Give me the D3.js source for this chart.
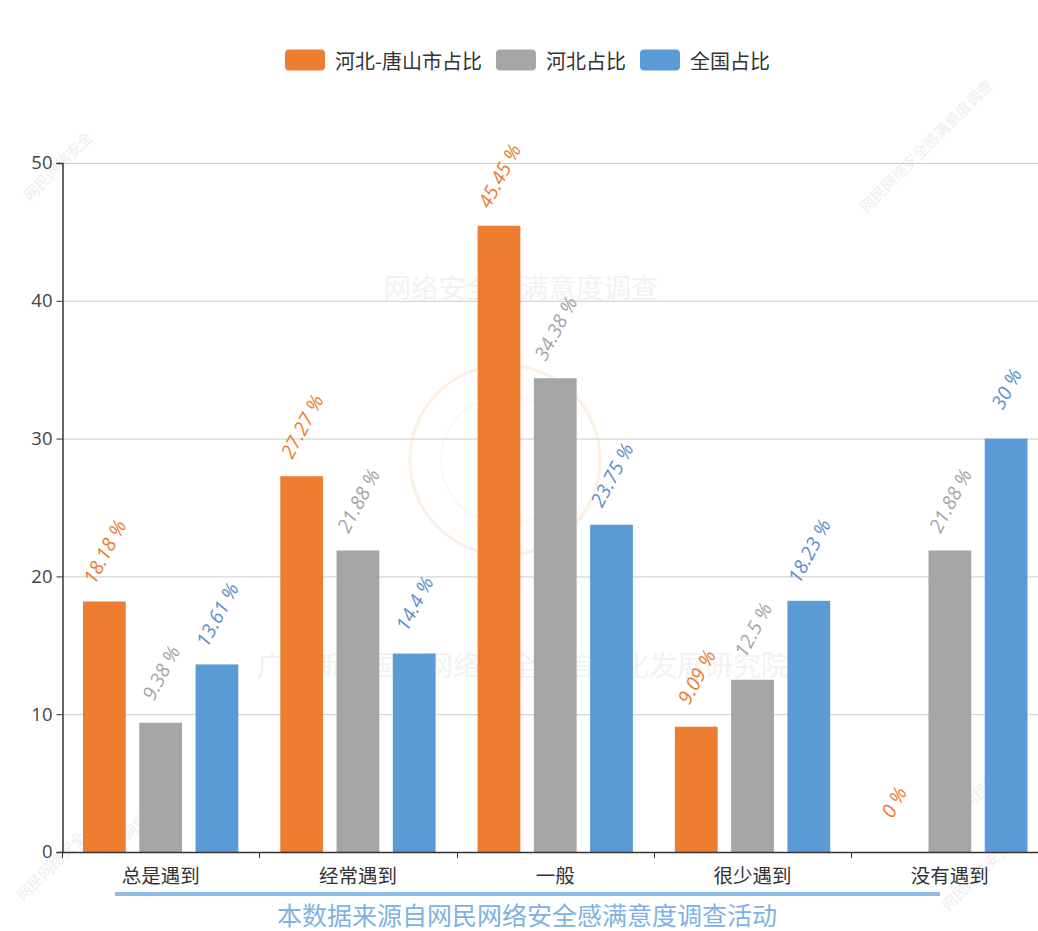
<!DOCTYPE html>
<html>
<head>
<meta charset="utf-8">
<script src="https://cdn.jsdelivr.net/npm/d3@7"></script>
<style>
  html, body { margin: 0; padding: 0; background: #fff; }
  svg { display: block; font-family: 'Open Sans', 'Noto Sans CJK SC', sans-serif; }
</style>
</head>
<body>
<svg id="chart" width="1038" height="931"></svg>
<script>
const categories = ["总是遇到", "经常遇到", "一般", "很少遇到", "没有遇到"];
const seriesNames = ["河北-唐山市占比", "河北占比", "全国占比"];
const tangshan = [18.18, 27.27, 45.45, 9.09, 0];
const hebei = [9.38, 21.88, 34.38, 12.5, 21.88];
const national = [13.61, 14.4, 23.75, 18.23, 30];
const yTicks = [0, 10, 20, 30, 40, 50];
const colors = ["#ED7D31", "#A5A5A5", "#5B9BD5"];
const labelColors = ["#ED7D31", "#A5A5A5", "#5B8FCB"];
const footnote = "本数据来源自网民网络安全感满意度调查活动";

const seriesValues = [tangshan, hebei, national];
const svg = d3.select("#chart");

const plotLeft = 62, plotRight = 1048.5, plotTop = 163, plotBottom = 852;
const y = d3.scaleLinear().domain([0, 50]).range([plotBottom, plotTop]);
const x0 = d3.scaleBand().domain(categories).range([plotLeft, plotRight]).paddingInner(0).paddingOuter(0);
const x1 = d3.scaleBand().domain(seriesNames).range([21, x0.bandwidth() - 21]).paddingInner(0.24).paddingOuter(0);

// watermarks
const wm = svg.append("g").attr("class", "watermark");
wm.append("text").attr("x", 521).attr("y", 298).attr("text-anchor", "middle")
  .attr("font-size", 27.5).attr("fill", "#f2f2f2").text("网络安全感满意度调查");
wm.append("text").attr("x", 523).attr("y", 676).attr("text-anchor", "middle")
  .attr("font-size", 28).attr("fill", "#f2f2f2").text("广东新兴国家网络安全和信息化发展研究院");
wm.append("circle").attr("cx", 505).attr("cy", 460).attr("r", 95)
  .attr("fill", "none").attr("stroke", "#fcf0e4").attr("stroke-width", 3);
wm.append("circle").attr("cx", 505).attr("cy", 460).attr("r", 64)
  .attr("fill", "none").attr("stroke", "#fdf5ee").attr("stroke-width", 1.5);
const cornerMarks = [[62, 170, "网民网络安全"], [930, 150, "网民网络安全感满意度调查"], [55, 870, "网民网络安全"], [990, 790, "网民网络"], [980, 880, "网民网络安全"], [150, 820, "网民网络"]];
cornerMarks.forEach(([cx, cy, t]) => {
  wm.append("text").attr("transform", `translate(${cx},${cy}) rotate(-45)`)
    .attr("text-anchor", "middle").attr("font-size", 15).attr("fill", "#eeeeee")
    .text(t);
});

// gridlines
svg.append("g").selectAll("line").data(yTicks.filter(d => d > 0)).join("line")
  .attr("x1", plotLeft).attr("x2", 1038)
  .attr("y1", d => y(d) + 0.5).attr("y2", d => y(d) + 0.5)
  .attr("stroke", "#cccccc").attr("stroke-width", 1);

// y axis
const yAxis = svg.append("g").attr("transform", `translate(${plotLeft + 0.5},0)`)
  .call(d3.axisLeft(y).tickValues(yTicks).tickSize(6).tickPadding(4));
yAxis.select(".domain").attr("stroke", "#333").attr("stroke-width", 1.5);
yAxis.selectAll(".tick line").attr("stroke", "#333");
yAxis.selectAll(".tick text").attr("font-size", 18.5).attr("fill", "#444")
  .attr("font-family", "'Open Sans', sans-serif");

// bars
const groups = svg.append("g").selectAll("g").data(categories).join("g")
  .attr("transform", d => `translate(${x0(d)},0)`);
groups.selectAll("rect").data((c, i) => seriesNames.map((s, j) => ({ s, j, v: seriesValues[j][i] })))
  .join("rect")
  .attr("x", d => x1(d.s)).attr("width", x1.bandwidth())
  .attr("y", d => y(d.v)).attr("height", d => y(0) - y(d.v))
  .attr("fill", d => colors[d.j]);

// bar labels
groups.selectAll("text.lbl").data((c, i) => seriesNames.map((s, j) => ({ s, j, v: seriesValues[j][i] })))
  .join("text").attr("class", "lbl")
  .attr("transform", d => `translate(${x1(d.s) + x1.bandwidth() / 2},${y(d.v) - 50}) rotate(-62)`)
  .attr("text-anchor", "middle").attr("dominant-baseline", "central")
  .attr("font-size", 19.5).attr("font-style", "italic")
  .attr("fill", d => labelColors[d.j])
  .text(d => `${d.v} %`);

// x axis
svg.append("line").attr("x1", plotLeft).attr("x2", 1038).attr("y1", plotBottom + 0.5).attr("y2", plotBottom + 0.5)
  .attr("stroke", "#333").attr("stroke-width", 1.5);
const tickPos = categories.map(c => x0(c)).concat([plotRight]);
svg.append("g").selectAll("line").data(tickPos).join("line")
  .attr("x1", d => Math.round(d) + 0.5).attr("x2", d => Math.round(d) + 0.5)
  .attr("y1", plotBottom).attr("y2", plotBottom + 6).attr("stroke", "#333");
svg.append("g").selectAll("text").data(categories).join("text")
  .attr("x", d => x0(d) + x0.bandwidth() / 2).attr("y", 874)
  .attr("text-anchor", "middle").attr("dominant-baseline", "central")
  .attr("font-size", 19.5).attr("fill", "#333")
  .attr("font-family", "'Noto Sans CJK SC', sans-serif")
  .text(d => d);

// footnote
svg.append("line").attr("x1", 115).attr("x2", 940).attr("y1", 894).attr("y2", 894)
  .attr("stroke", "#8fbbe8").attr("stroke-width", 4);
svg.append("text").attr("x", 527).attr("y", 914).attr("text-anchor", "middle")
  .attr("dominant-baseline", "central").attr("font-size", 25).attr("fill", "#80b1e2")
  .attr("font-family", "'Noto Sans CJK SC', sans-serif")
  .text(footnote);

// legend
const legend = svg.append("g");
const items = legend.selectAll("g").data(seriesNames).join("g");
items.append("rect").attr("width", 40).attr("height", 21).attr("rx", 4).attr("ry", 4)
  .attr("y", -10.5).attr("fill", (d, i) => colors[i]);
items.append("text").attr("x", 50).attr("y", 0).attr("dominant-baseline", "central")
  .attr("font-size", 20).attr("fill", "#333")
  .attr("font-family", "'Noto Sans CJK SC', sans-serif")
  .text(d => d);
let offs = [], cur = 0;
const gap = 14;
items.each(function () {
  const w = this.getBBox().width;
  offs.push(cur);
  cur += w + gap;
});
const total = cur - gap;
const startX = 527.5 - total / 2;
items.attr("transform", (d, i) => `translate(${startX + offs[i]},60)`);
</script>
</body>
</html>
